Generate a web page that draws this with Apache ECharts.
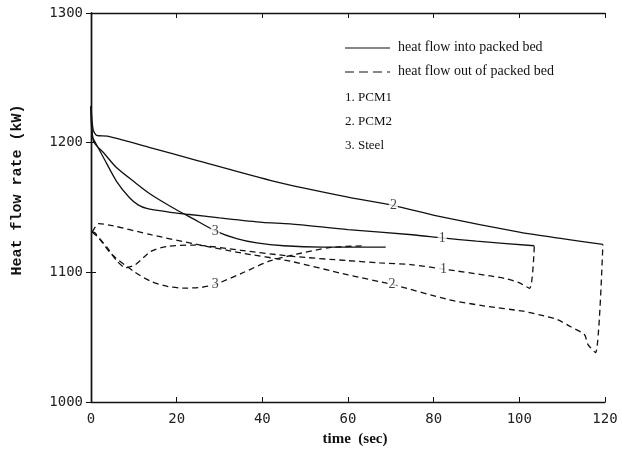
<!DOCTYPE html>
<html>
<head>
<meta charset="utf-8">
<script src="https://cdn.jsdelivr.net/npm/echarts@6/dist/echarts.min.js"></script>
<style>
  html, body { margin: 0; padding: 0; background: #fff; }
  #chart { width: 622px; height: 455px; }
</style>
</head>
<body>
<div id="chart"></div>
<script>
// [time (sec), heat flow rate (kW)]
const pcm1In = [[0, 1228], [0.3, 1205], [1.2, 1199], [3, 1188], [6, 1170], [9, 1157.5], [11, 1152], [13, 1149.3],
  [17.8, 1146.7], [23, 1144.6], [30, 1142], [40, 1138.6], [46.5, 1137.4], [60, 1133], [75, 1129], [82, 1126.5],
  [90, 1124], [103.5, 1120.5]];
const pcm2In = [[0, 1228], [0.5, 1210], [1.3, 1205.7], [3.8, 1205], [14, 1196], [24, 1187], [43, 1170],
  [60, 1158], [70.6, 1151.5], [80.7, 1143.5], [100, 1131], [110, 1126], [119.5, 1121.5]];
const steelIn = [[0, 1228], [0.6, 1201], [3, 1192], [6, 1180.6], [10, 1170], [14, 1160], [19, 1150], [24, 1141],
  [29, 1132], [34, 1126], [38.7, 1122.7], [45, 1120.5], [54, 1119.5], [68.8, 1119.5]];

const pcm1Out = [[0.3, 1131], [2, 1126], [3.8, 1119], [6, 1109], [8.1, 1103.5], [10.4, 1106], [13.9, 1116],
  [17.8, 1120], [24, 1121], [35, 1117], [46.5, 1112.5], [60, 1109], [67.4, 1107.3], [74.6, 1106],
  [82.3, 1102.5], [93.6, 1097], [97, 1095], [99.9, 1092], [102.4, 1087.7], [103.5, 1120.5]];
const pcm2Out = [[0.3, 1131], [1.8, 1137.5], [5, 1136], [14, 1129], [24, 1122], [35, 1115], [46.5, 1108.6],
  [60, 1098], [70.3, 1090.7], [83.4, 1079], [92, 1074], [100.9, 1070], [105, 1067], [108.9, 1063.5],
  [112, 1058], [115.2, 1052], [116, 1044.5], [117.8, 1038], [119.5, 1121.5]];
const steelOut = [[0.3, 1131], [0.9, 1130.5], [4.8, 1114], [10.3, 1100], [14, 1093], [18, 1089], [22, 1087.8],
  [26, 1088.5], [29, 1090.7], [35, 1099], [41.6, 1108.6], [48, 1114], [55.6, 1119], [63.5, 1120.5]];

// curve number tags sitting on the lines
const curveTags = [[70.6, 1151.5, '2'], [82, 1126.5, '1'], [29, 1132, '3'],
  [82.3, 1102.5, '1'], [70.3, 1090.7, '2'], [29, 1090.7, '3']];

const xTicks = [0, 20, 40, 60, 80, 100, 120];
const yTicks = [1000, 1100, 1200, 1300];

const ink = '#111';
const tickFont = { color: '#222', fontFamily: 'DejaVu Sans Mono', fontSize: 14 };

function line(data, dashed) {
  return {
    type: 'line',
    data,
    showSymbol: false,
    smooth: 0.25,
    animation: false,
    lineStyle: { color: ink, width: 1.3, type: dashed ? [6, 4] : 'solid' },
  };
}

const chart = echarts.init(document.getElementById('chart'), null, { renderer: 'canvas' });

const axisBase = {
  axisLine: { show: true, lineStyle: { color: ink, width: 1.4 } },
  axisTick: { show: true, inside: true, length: 5, lineStyle: { color: ink } },
  splitLine: { show: false },
};

chart.setOption({
  animation: false,
  backgroundColor: '#fff',
  grid: { left: 91, right: 17, top: 13, bottom: 53 },
  xAxis: [
    {
      ...axisBase, type: 'value', min: xTicks[0], max: xTicks[xTicks.length - 1], interval: 20,
      axisLabel: { ...tickFont, margin: 10, formatter: (v) => String(v) },
    },
    {
      ...axisBase, type: 'value', position: 'top', min: 0, max: 120, interval: 20,
      axisLabel: { show: false },
    },
  ],
  yAxis: [
    {
      ...axisBase, type: 'value', min: yTicks[0], max: yTicks[yTicks.length - 1], interval: 100,
      axisLabel: { ...tickFont, margin: 8, formatter: (v) => String(v) },
    },
    {
      ...axisBase, type: 'value', position: 'right', min: 1000, max: 1300, interval: 100,
      axisLabel: { show: false },
    },
  ],
  series: [
    line(pcm1In, false),
    line(pcm2In, false),
    line(steelIn, false),
    line(pcm1Out, true),
    line(pcm2Out, true),
    line(steelOut, true),
    {
      type: 'scatter',
      data: curveTags,
      symbolSize: 0,
      z: 5,
      label: {
        show: true,
        position: 'inside',
        formatter: (p) => p.value[2],
        fontFamily: 'Liberation Serif',
        fontSize: 14,
        color: ink,
        backgroundColor: '#fff',
        padding: [0, 1],
      },
    },
  ],
  graphic: [
    { type: 'line', shape: { x1: 345, y1: 48, x2: 390, y2: 48 }, style: { stroke: ink, lineWidth: 1.2 } },
    { type: 'line', shape: { x1: 345, y1: 72, x2: 390, y2: 72 }, style: { stroke: ink, lineWidth: 1.2, lineDash: [9, 5] } },
    { type: 'text', left: 398, top: 40, style: { text: 'heat flow into packed bed', font: '14px "Liberation Serif"', fill: ink } },
    { type: 'text', left: 398, top: 64, style: { text: 'heat flow out of packed bed', font: '14px "Liberation Serif"', fill: ink } },
    { type: 'text', left: 345, top: 91, style: { text: '1. PCM1', font: '13px "Liberation Serif"', fill: ink } },
    { type: 'text', left: 345, top: 115, style: { text: '2. PCM2', font: '13px "Liberation Serif"', fill: ink } },
    { type: 'text', left: 345, top: 139, style: { text: '3. Steel', font: '13px "Liberation Serif"', fill: ink } },
    {
      type: 'text', x: 17, y: 190, rotation: Math.PI / 2,
      style: { text: 'Heat flow rate (kW)', font: 'bold 15px "Liberation Mono"', fill: ink, align: 'center', verticalAlign: 'middle' },
    },
    {
      type: 'text', x: 355, y: 439,
      style: { text: 'time  (sec)', font: 'bold 15px "Liberation Serif"', fill: ink, align: 'center', verticalAlign: 'middle' },
    },
  ],
});
</script>
</body>
</html>
